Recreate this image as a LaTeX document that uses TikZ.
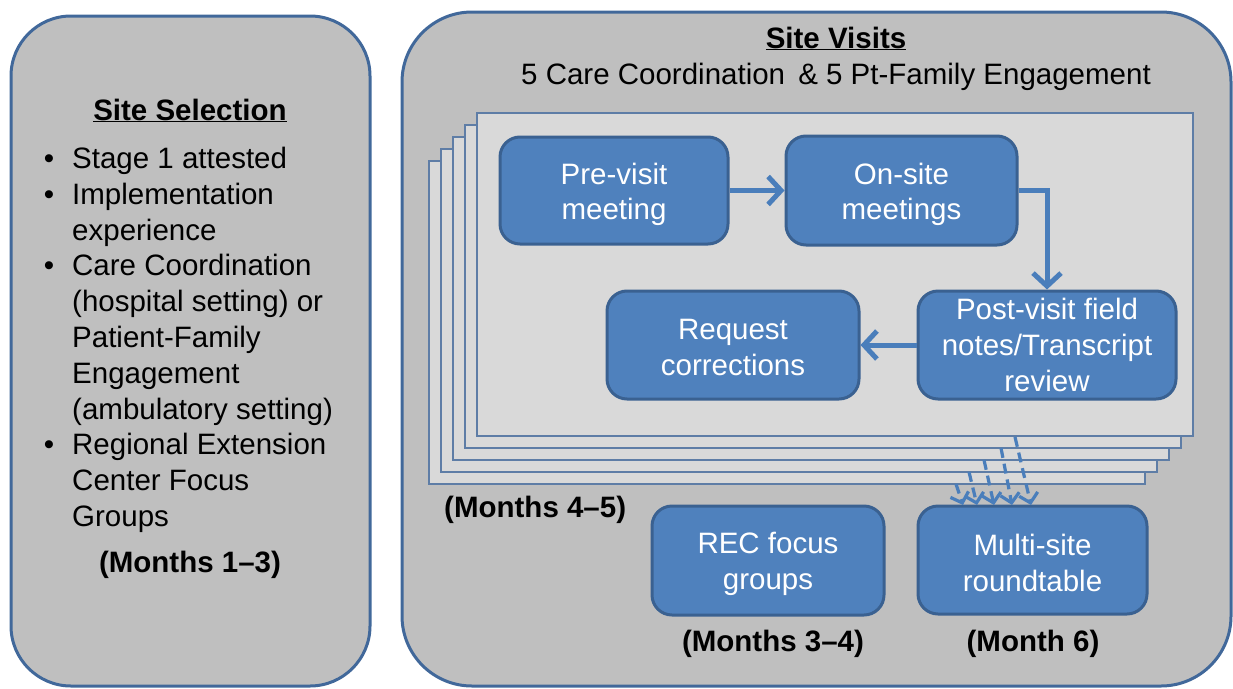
\documentclass[tikz,border=0pt]{standalone}
\usepackage{fontspec}
\setmainfont{Liberation Sans}
\usetikzlibrary{arrows.meta}
\definecolor{outerfill}{HTML}{BFBFBF}
\definecolor{outerline}{HTML}{41689A}
\definecolor{pagefill}{HTML}{D9D9D9}
\definecolor{pageline}{HTML}{5E7DA6}
\definecolor{boxfill}{HTML}{4F81BD}
\definecolor{boxline}{HTML}{3A6191}
\definecolor{arrowc}{HTML}{4A7EBB}
\newcommand\myfont{\fontsize{29.5}{35.8}\selectfont}
\newcommand\lowr[1]{\rule{0pt}{#1}}
\begin{document}
\begin{tikzpicture}[x=1pt,y=-1pt,
  outerbox/.style={draw=outerline, line width=3pt, fill=outerfill, rounded corners=60pt},
  page/.style={draw=pageline, line width=1.3pt, fill=pagefill, minimum width=716pt, minimum height=323pt, inner sep=0pt},
  bluebox/.style={draw=boxline, line width=3pt, fill=boxfill, rounded corners=20pt, text=white, align=center, font=\myfont, inner sep=0pt},
  flow/.style={draw=arrowc, line width=5pt, -{Straight Barb[length=13pt,width=28pt]}},
  dflow/.style={draw=arrowc, line width=3.2pt, dash pattern=on 10pt off 6pt, -{Straight Barb[length=9pt,width=19pt]}},
  lbl/.style={font=\myfont\bfseries, anchor=base, inner sep=0pt},
  plain/.style={font=\myfont, anchor=base, inner sep=0pt}
]
\useasboundingbox (0,0) rectangle (1233,688);
% outer boxes
\draw[outerbox] (11,16) rectangle (370,686);
\draw[outerbox, rounded corners=70pt] (402,12) rectangle (1231,686);
% left box text
\node[lbl] (selhead) at (190,120) {\underline{Site Selection}};
\node[font=\myfont, anchor=base west, align=left, inner sep=0pt] (list) at (72,526.5)
 {\llap{•\hspace{18pt}}Stage 1 attested\\
  \llap{•\hspace{18pt}}Implementation\\
  experience\\
  \llap{•\hspace{18pt}}Care Coordination\\
  (hospital setting) or\\
  Patient-Family\\
  Engagement\\
  (ambulatory setting)\\
  \llap{•\hspace{18pt}}Regional Extension\\
  Center Focus\\
  Groups};
\node[lbl] (m13) at (190,572) {(Months 1–3)};
% right box headings
\node[lbl] (vishead) at (836,48) {\underline{Site Visits}};
\node[plain] (vissub) at (836,84) {5 Care Coordination \,\& 5 Pt-Family Engagement};
% stacked pages (back to front)
\node[page] (pg4) at (787,322.5) {};
\node[page] (pg3) at (799,310.5) {};
\node[page] (pg2) at (811,298.5) {};
\node[page] (pg1) at (823,286.5) {};
\node[page] (pg0) at (835,274.5) {};
% blue boxes
\node[bluebox, minimum width=228pt, minimum height=107pt] (pre) at (614,190.5) {\lowr{29pt}Pre-visit\\meeting};
\node[bluebox, minimum width=231pt, minimum height=109pt] (onsite) at (901.5,190.5) {\lowr{29pt}On-site\\meetings};
\node[bluebox, minimum width=258pt, minimum height=108pt] (post) at (1047,345) {Post-visit field\\notes/Transcript\\review};
\node[bluebox, minimum width=252pt, minimum height=108pt] (req) at (733,345) {\lowr{26pt}Request\\corrections};
\node[bluebox, minimum width=232pt, minimum height=109pt] (rec) at (768,560.5) {\lowr{28pt}REC focus\\groups};
\node[bluebox, minimum width=229pt, minimum height=108pt] (multi) at (1032.5,560) {\lowr{27pt}Multi-site\\roundtable};
% flow arrows
\draw[flow] (pre.east) -- (onsite.west);
\draw[flow] (onsite.east) -| (post.north);
\draw[flow] (post.west) -- (req.east);
% dashed arrows
\coordinate (s0) at (1015,437);
\coordinate (s1) at (1001,448);
\coordinate (s2) at (984,460);
\coordinate (s3) at (969,472);
\coordinate (s4) at (956,484);
\coordinate (e0) at (1031,505);
\coordinate (e1) at (1012,505);
\coordinate (e2) at (994,505);
\coordinate (e3) at (977,505);
\coordinate (e4) at (963,505);
\foreach \i in {0,...,4} { \draw[dflow] (s\i) -- (e\i); }
% month labels
\node[lbl, anchor=base west] (m45) at (444,517) {(Months 4–5)};
\node[lbl] (m34) at (773,651) {(Months 3–4)};
\node[lbl] (m6) at (1033,651) {(Month 6)};
\end{tikzpicture}
\end{document}
